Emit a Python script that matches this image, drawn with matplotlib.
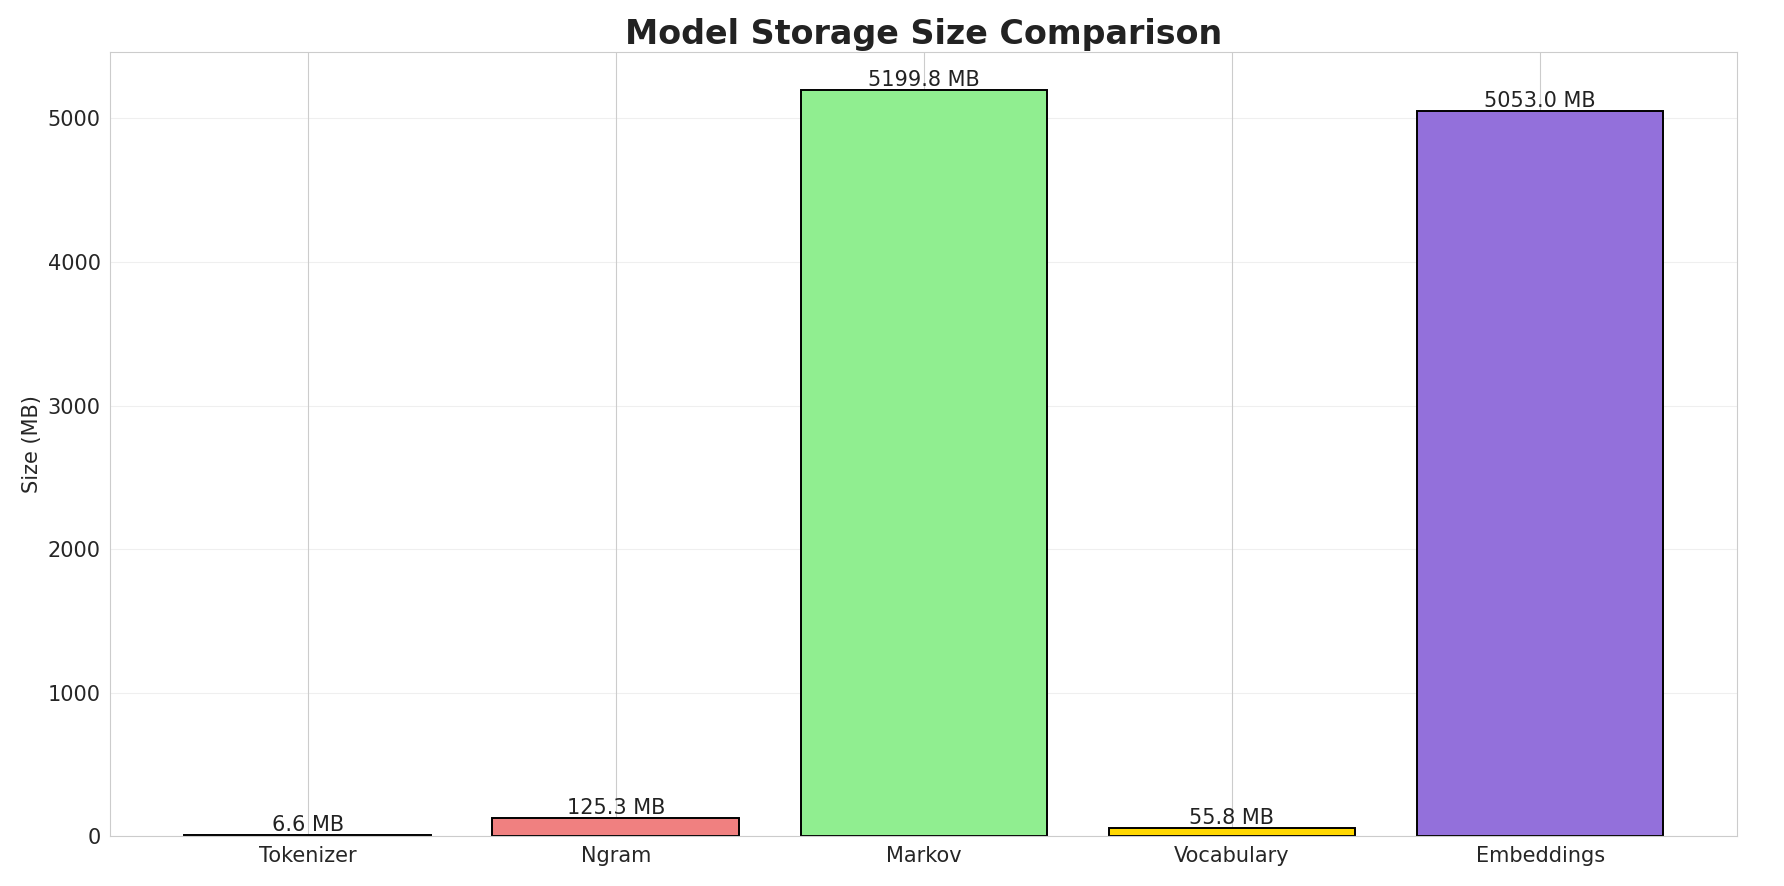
import matplotlib
matplotlib.use("Agg")
import matplotlib.pyplot as plt
import seaborn as sns

sns.set_style("whitegrid")

models = ["Tokenizer", "Ngram", "Markov", "Vocabulary", "Embeddings"]
sizes = [6.6, 125.3, 5199.8, 55.8, 5053.0]
colors = ["skyblue", "lightcoral", "lightgreen", "gold", "mediumpurple"]

W, H = 1784, 886
s = W / 1568
fig = plt.figure(figsize=(W/100, H/100), dpi=100)
l, r, t, b = 97*s, 1527*s, 46*s, 735*s
ax = fig.add_axes([l/W, 1-b/H, (r-l)/W, (b-t)/H])
bars = ax.bar(models, sizes, color=colors, edgecolor="black", linewidth=1.4)
for bb, v in zip(bars, sizes):
    ax.text(bb.get_x() + bb.get_width()/2, bb.get_height(), f"{v:.1f} MB",
            ha="center", va="bottom", fontsize=15, color="#222222")
ax.set_title("Model Storage Size Comparison", fontsize=24, fontweight="bold", color="#222222")
ax.set_ylabel("Size (MB)", fontsize=15)
ax.tick_params(labelsize=15)
ax.grid(axis="y", alpha=0.3)
fig.savefig("out.png", dpi=100)
